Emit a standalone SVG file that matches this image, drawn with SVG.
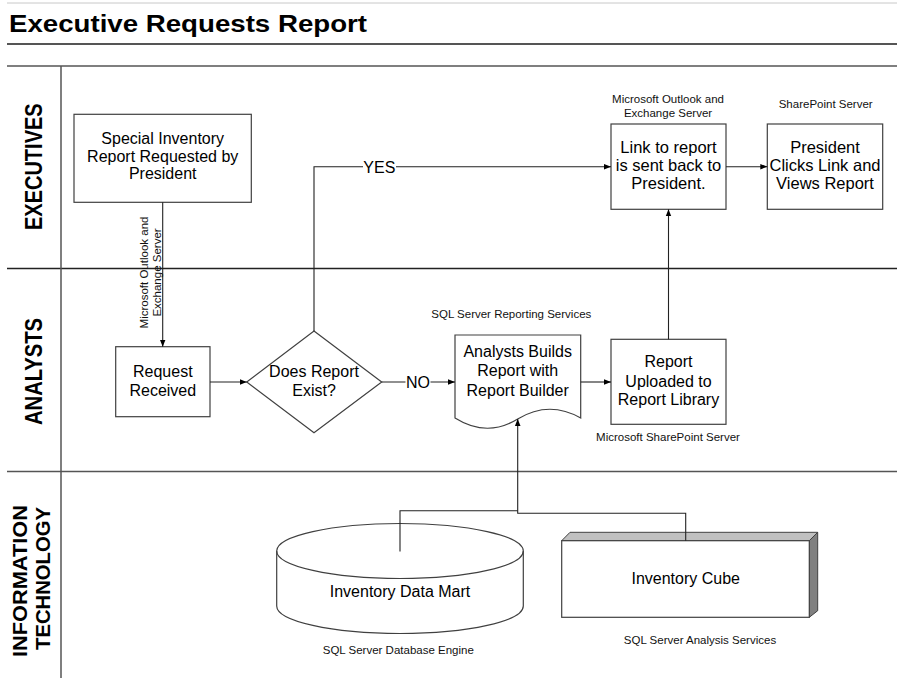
<svg xmlns="http://www.w3.org/2000/svg" width="897" height="678" viewBox="0 0 897 678">
<style>
text{font-family:"Liberation Sans",Arial,sans-serif;fill:#000}
.t{font-size:16px;text-anchor:middle}
.s{font-size:11.5px;text-anchor:middle;fill:#111}
.lane{font-size:23.3px;font-weight:bold;text-anchor:middle}
.box{fill:#fff;stroke:#404040;stroke-width:1.2}
.ln{stroke:#555;stroke-width:1.5;fill:none}
.c{stroke:#222;stroke-width:1.1;fill:none}
</style>
<defs>
<marker id="arr" viewBox="0 0 10 10" refX="10" refY="5" markerWidth="7" markerHeight="7" markerUnits="userSpaceOnUse" orient="auto"><path d="M0,1 L10,5 L0,9 Z" fill="#000"/></marker>
</defs>
<rect width="897" height="678" fill="#fff"/>
<g id="frame">
<line x1="7" y1="3" x2="897" y2="3" stroke="#c8c8c8" stroke-width="1"/>
<text x="9" y="32" font-size="23.5" font-weight="bold" textLength="358" lengthAdjust="spacingAndGlyphs">Executive Requests Report</text>
<line x1="7" y1="44" x2="897" y2="44" stroke="#555" stroke-width="2"/>
<line class="ln" x1="7" y1="66" x2="897" y2="66"/>
<line class="ln" x1="7" y1="268.5" x2="897" y2="268.5" style="stroke:#222"/>
<line class="ln" x1="7" y1="471.5" x2="897" y2="471.5"/>
<line class="ln" x1="61" y1="66" x2="61" y2="678"/>
<text class="lane" transform="translate(41.7,166.7) rotate(-90)" textLength="126.7" lengthAdjust="spacingAndGlyphs">EXECUTIVES</text>
<text class="lane" transform="translate(41.7,371.5) rotate(-90)" textLength="107" lengthAdjust="spacingAndGlyphs">ANALYSTS</text>
<text class="lane" style="font-size:19.5px" transform="translate(26.7,581) rotate(-90)" textLength="152" lengthAdjust="spacingAndGlyphs">INFORMATION</text>
<text class="lane" style="font-size:19.5px" transform="translate(50,578.5) rotate(-90)" textLength="143" lengthAdjust="spacingAndGlyphs">TECHNOLOGY</text>
</g>
<g id="n-special">
<rect class="box" x="74" y="114.3" width="177.3" height="88"/>
<text class="t" x="162.7" y="144.3">Special Inventory</text>
<text class="t" x="162.7" y="161.7">Report Requested by</text>
<text class="t" x="162.7" y="179">President</text>
</g>
<g id="n-request">
<rect class="box" x="115.7" y="346.7" width="94.3" height="70"/>
<text class="t" x="162.8" y="376.7">Request</text>
<text class="t" x="162.8" y="395.7">Received</text>
</g>
<g id="n-decision">
<polygon class="box" points="314,331 381.7,382 314,432.7 246.7,382"/>
<text class="t" x="314" y="376.7">Does Report</text>
<text class="t" x="314" y="395.7">Exist?</text>
</g>
<g id="n-build">
<text class="s" x="511.3" y="317.7">SQL Server Reporting Services</text>
<path class="box" d="M455,335 H580.7 V418 Q549,400 517.7,419 Q487,438 455,418 Z"/>
<text class="t" x="517.7" y="356.7">Analysts Builds</text>
<text class="t" x="517.7" y="376.4">Report with</text>
<text class="t" x="517.7" y="396">Report Builder</text>
</g>
<g id="n-upload">
<rect class="box" x="611" y="339.3" width="115" height="85"/>
<text class="t" x="668.5" y="367.3">Report</text>
<text class="t" x="668.5" y="386.7">Uploaded to</text>
<text class="t" x="668.5" y="404.5">Report Library</text>
<text class="s" x="668" y="440.7">Microsoft SharePoint Server</text>
</g>
<g id="n-link">
<text class="s" x="668" y="102.5">Microsoft Outlook and</text>
<text class="s" x="668" y="116.5">Exchange Server</text>
<rect class="box" x="611" y="124" width="115" height="85.3"/>
<text class="t" x="668.5" y="153.3" style="font-size:16.5px">Link to report</text>
<text class="t" x="668.5" y="171.3" style="font-size:16.5px">is sent back to</text>
<text class="t" x="668.5" y="189.3" style="font-size:16.5px">President.</text>
</g>
<g id="n-president">
<text class="s" x="825.7" y="107.5">SharePoint Server</text>
<rect class="box" x="767.3" y="124" width="115.4" height="85.3"/>
<text class="t" x="825" y="153.3" style="font-size:16.5px">President</text>
<text class="t" x="825" y="171.3" style="font-size:16.5px">Clicks Link and</text>
<text class="t" x="825" y="189.3" style="font-size:16.5px">Views Report</text>
</g>
<g id="n-datamart">
<path class="box" d="M276.7,551 V606 A123.3,27.5 0 0 0 523.3,606 V551 A123.3,27.5 0 0 0 276.7,551 Z"/>
<path class="box" d="M276.7,551 A123.3,27.5 0 0 0 523.3,551" style="fill:none"/>
<text class="t" x="400" y="596.7">Inventory Data Mart</text>
<text class="s" x="398.3" y="654.3">SQL Server Database Engine</text>
</g>
<g id="n-cube">
<polygon points="561.7,540.7 570,532.3 817.7,532.3 809.3,540.7" fill="#c0c0c0" stroke="#404040" stroke-width="1"/>
<polygon points="809.3,540.7 817.7,532.3 817.7,610.7 809.3,617.3" fill="#808080" stroke="#404040" stroke-width="1"/>
<rect class="box" x="561.7" y="540.7" width="247.6" height="76.6"/>
<text class="t" x="685.7" y="584">Inventory Cube</text>
<text class="s" x="700" y="644.3">SQL Server Analysis Services</text>
</g>
<g id="connectors">
<path class="c" d="M162.7,202.3 V346.7" marker-end="url(#arr)"/>
<g transform="translate(148,272.5) rotate(-90)">
<text class="s" x="0" y="0">Microsoft Outlook and</text>
<text class="s" x="0" y="12.5">Exchange Server</text>
</g>
<path class="c" d="M210,382 H246.7" marker-end="url(#arr)"/>
<path class="c" d="M314,331 V166.7 H611" marker-end="url(#arr)"/>
<rect x="363" y="158" width="33" height="17" fill="#fff"/>
<text class="t" x="379.3" y="172.5">YES</text>
<path class="c" d="M381.7,382 H455" marker-end="url(#arr)"/>
<rect x="405.5" y="373" width="25" height="17" fill="#fff"/>
<text class="t" x="418" y="387.8">NO</text>
<path class="c" d="M580.7,382 H611" marker-end="url(#arr)"/>
<path class="c" d="M668.5,339.3 V209.3" marker-end="url(#arr)"/>
<path class="c" d="M726,166.7 H767.3" marker-end="url(#arr)"/>
<path class="c" d="M685.7,540.7 V513.3 H517.7 V419" marker-end="url(#arr)"/>
<path class="c" d="M400,551.5 V510.7 H517.7"/>
</g>
</svg>
